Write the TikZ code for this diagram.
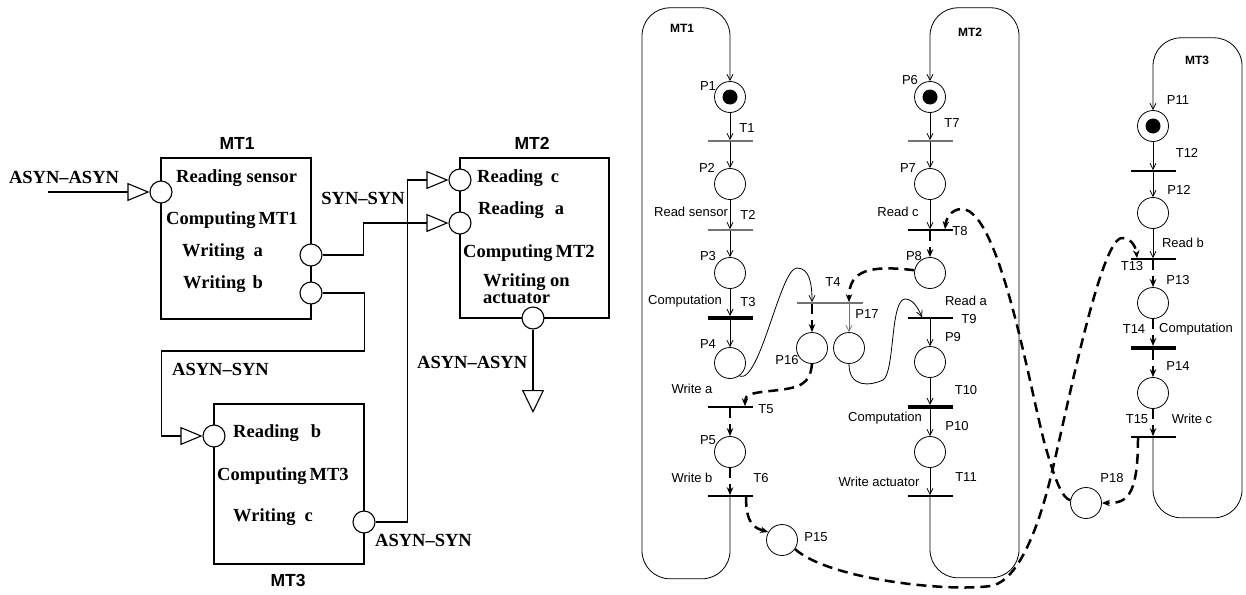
\documentclass[tikz,border=0pt]{standalone}
\usepackage{fontspec}
\setmainfont{Liberation Serif}
\setsansfont{Liberation Sans}
\usetikzlibrary{arrows.meta,calc}

\begin{document}
\begin{tikzpicture}[x=1pt, y=-1pt,
  box/.style={draw, line width=1.1pt, inner sep=0pt},
  port/.style={circle, draw, fill=white, line width=1.1pt, minimum size=22pt, inner sep=0pt},
  wire/.style={line width=1.1pt},
  tri/.style={-{Triangle[open, length=22pt, width=18pt]}},
  tlbl/.style={font=\fontsize{18.5}{20}\selectfont\bfseries, inner sep=0pt, anchor=west},
  mlbl/.style={font=\fontsize{17.5}{20}\selectfont\sffamily\bfseries, inner sep=0pt},
  place/.style={circle, draw, line width=0.8pt, minimum size=31pt, inner sep=0pt},
  marked/.style={path picture={\fill (path picture bounding box.center) circle (7.5pt);}},
  trans/.style={fill=black, minimum width=45pt, minimum height=1.2pt, inner sep=0pt},
  timed/.style={trans, minimum height=3.6pt},
  faint/.style={fill=black!55},
  plbl/.style={font=\fontsize{13}{15}\selectfont\sffamily, inner sep=0pt},
  lane/.style={font=\fontsize{12}{14}\selectfont\sffamily\bfseries, inner sep=0pt},
  flow/.style={line width=0.8pt, -{Straight Barb[length=6pt, width=6pt]}},
  sync/.style={line width=2.5pt, dash pattern=on 10pt off 6pt, -{Stealth[length=8pt, width=6.5pt]}},
]
  \useasboundingbox (0,0) rectangle (1246,594);

  % ---------- task blocks ----------
  \node[box, minimum width=150pt, minimum height=161pt] (mtone) at (236,238.5) {};
  \node[box, minimum width=149pt, minimum height=160pt] (mttwo) at (534.5,238) {};
  \node[box, minimum width=150pt, minimum height=160pt] (mtthree) at (289,484) {};

  \node[mlbl] (nmtone) at (237,143) {MT1};
  \node[mlbl] (nmttwo) at (532,143) {MT2};
  \node[mlbl] (nmtthree) at (288,580) {MT3};

  % ports
  \node[port] (mtoneIn) at (161,192) {};
  \node[port] (mtoneA) at (311,255) {};
  \node[port] (mtoneB) at (311,293) {};
  \node[port] (mttwoC) at (460,180) {};
  \node[port] (mttwoA) at (460,223) {};
  \node[port] (mttwoOut) at (533,318) {};
  \node[port] (mtthreeB) at (214,436) {};
  \node[port] (mtthreeC) at (364,522) {};
  \coordinate (sensorIn) at (48,192);
  \coordinate (actOut) at (533,413);

  % block texts
  \node[tlbl] (tsensor) at (176,178) {Reading sensor};
  \node[tlbl] (tcompone) at (166,220) {Computing\kern3pt MT1};
  \node[tlbl] (twa) at (182,252) {Writing\hspace{9pt}a};
  \node[tlbl] (twb) at (183,284) {Writing\hspace{7pt}b};
  \node[tlbl] (trc) at (477,178) {Reading\hspace{8pt}c};
  \node[tlbl] (tra) at (478,210) {Reading\hspace{11pt}a};
  \node[tlbl] (tcomptwo) at (463,253) {Computing\kern3pt MT2};
  \node[tlbl, align=left] (twact) at (483,289) {Writing on\\[-3pt]actuator};
  \node[tlbl] (trb) at (233,433) {Reading\hspace{12pt}b};
  \node[tlbl] (tcompthree) at (217,476) {Computing\kern3pt MT3};
  \node[tlbl] (twc) at (233,517) {Writing\hspace{9pt}c};

  % link types
  \node[tlbl, anchor=center] (kin) at (64,177) {ASYN--ASYN};
  \node[tlbl, anchor=center] (ksyn) at (363,198) {SYN--SYN};
  \node[tlbl] (kab) at (172,369) {ASYN--SYN};
  \node[tlbl] (kout) at (417,362) {ASYN--ASYN};
  \node[tlbl] (kc) at (375,540) {ASYN--SYN};

  % links
  \draw[wire, tri] (sensorIn) -- (mtoneIn.west);
  \draw[wire, tri] (mtoneA.east) -- ++(41,0) |- (mttwoA.west);
  \draw[wire, tri] (mtoneB.east) -- ++(42,0) |- ++(-203,58) |- (mtthreeB.west);
  \draw[wire, tri] (mtthreeC.east) -- ++(32,0) |- (mttwoC.west);
  \draw[wire, -{Triangle[open, length=23pt, width=22pt]}] (mttwoOut.south) -- (actOut);

  % ---------- Petri net: MT1 ----------
  \node[place, marked] (P1) at (730,97) {};
  \node[trans, faint] (T1) at (730,141) {};
  \node[place] (P2) at (730,184) {};
  \node[trans, faint] (T2) at (730,230) {};
  \node[place] (P3) at (730,273) {};
  \node[timed] (T3) at (730,318) {};
  \node[place] (P4) at (730,363) {};
  \node[trans] (T5) at (730,407) {};
  \node[place] (P5) at (730,452) {};
  \node[trans] (T6) at (730,496) {};

  % MT2
  \node[place, marked] (P6) at (930,97) {};
  \node[trans, faint] (T7) at (930,141) {};
  \node[place] (P7) at (930,184) {};
  \node[trans] (T8) at (930,230) {};
  \node[place] (P8) at (930,273) {};
  \node[trans] (T9) at (930,318) {};
  \node[place] (P9) at (930,362) {};
  \node[timed] (T10) at (930,407) {};
  \node[place] (P10) at (930,452) {};
  \node[trans] (T11) at (930,496) {};

  % MT3
  \node[place, marked] (P11) at (1153,126) {};
  \node[trans] (T12) at (1153,171) {};
  \node[place] (P12) at (1153,213) {};
  \node[trans] (T13) at (1153,259) {};
  \node[place] (P13) at (1153,303) {};
  \node[timed] (T14) at (1153,348) {};
  \node[place] (P14) at (1153,393) {};
  \node[trans] (T15) at (1153,437) {};

  % communication places
  \node[trans, faint, minimum width=66pt] (T4) at (830,303) {};
  \node[place] (P16) at (812,348) {};
  \node[place] (P17) at (849,348) {};
  \node[place] (P15) at (782,540) {};
  \node[place] (P18) at (1086,503) {};

  % labels
  \node[lane] (lmtone) at (682,28) {MT1};
  \node[lane] (lmttwo) at (970,32) {MT2};
  \node[lane] (lmtthree) at (1197,60) {MT3};
  \node[plbl] (lP1) at (708,86) {P1};
  \node[plbl] (lT1) at (747,128) {T1};
  \node[plbl] (lP2) at (707,168) {P2};
  \node[plbl] (lrs) at (691,212) {Read sensor};
  \node[plbl] (lT2) at (748,215) {T2};
  \node[plbl] (lP3) at (708,256) {P3};
  \node[plbl] (lcone) at (685,301) {Computation};
  \node[plbl] (lT3) at (748,302) {T3};
  \node[plbl] (lP4) at (708,344) {P4};
  \node[plbl] (lwa) at (692,389) {Write a};
  \node[plbl] (lT5) at (766,409) {T5};
  \node[plbl] (lP5) at (708,440) {P5};
  \node[plbl] (lwb) at (692,478) {Write b};
  \node[plbl] (lT6) at (761,478) {T6};
  \node[plbl] (lP15) at (816,537) {P15};
  \node[plbl] (lP16) at (787,360) {P16};
  \node[plbl] (lT4) at (833,282) {T4};
  \node[plbl] (lP17) at (867,314) {P17};
  \node[plbl] (lP6) at (910,80) {P6};
  \node[plbl] (lT7) at (952,123) {T7};
  \node[plbl] (lP7) at (908,168) {P7};
  \node[plbl] (lrc) at (898,212) {Read c};
  \node[plbl] (lT8) at (960,231) {T8};
  \node[plbl] (lP8) at (914,256) {P8};
  \node[plbl] (lra) at (966,301) {Read a};
  \node[plbl] (lT9) at (969,319) {T9};
  \node[plbl] (lP9) at (953,337) {P9};
  \node[plbl] (lT10) at (966,390) {T10};
  \node[plbl] (lctwo) at (885,418) {Computation};
  \node[plbl] (lP10) at (957,426) {P10};
  \node[plbl] (lwact) at (879,482) {Write actuator};
  \node[plbl] (lT11) at (966,477) {T11};
  \node[plbl] (lP11) at (1178,100) {P11};
  \node[plbl] (lT12) at (1187,153) {T12};
  \node[plbl] (lP12) at (1179,190) {P12};
  \node[plbl] (lrb) at (1183,243) {Read b};
  \node[plbl] (lT13) at (1132,266) {T13};
  \node[plbl] (lP13) at (1178,280) {P13};
  \node[plbl] (lT14) at (1134,329) {T14};
  \node[plbl] (lcthree) at (1196,329) {Computation};
  \node[plbl] (lP14) at (1178,366) {P14};
  \node[plbl] (lT15) at (1137,419) {T15};
  \node[plbl] (lwc) at (1192,419) {Write c};
  \node[plbl] (lP18) at (1112,478) {P18};

  % sequential arcs
  \draw[flow] (P1) -- (T1);
  \draw[flow] (T1) -- (P2);
  \draw[flow] (P2) -- (T2);
  \draw[flow] (T2) -- (P3);
  \draw[flow] (P3) -- (T3);
  \draw[flow] (T3) -- (P4);
  \draw[sync] (T5) -- (P5);
  \draw[sync] (P5) -- (T6);
  \draw[flow, rounded corners=28pt] (T6.south) -- ++(0,82) -- ++(-88,0) -- ++(0,-571) -- ++(88,0) -- (P1.north);

  \draw[flow] (P6) -- (T7);
  \draw[flow] (T7) -- (P7);
  \draw[flow] (P7) -- (T8);
  \draw[sync] (T8) -- (P8);
  \draw[flow] (T9) -- (P9);
  \draw[flow] (P9) -- (T10);
  \draw[flow] (T10) -- (P10);
  \draw[flow] (P10) -- (T11);
  \draw[flow, rounded corners=28pt] (T11.south) -- ++(0,81) -- ++(89,0) -- ++(0,-570) -- ++(-89,0) -- (P6.north);

  \draw[flow] (P11) -- (T12);
  \draw[flow] (T12) -- (P12);
  \draw[flow] (P12) -- (T13);
  \draw[sync] (T13) -- (P13);
  \draw[sync] (P13) -- (T14);
  \draw[sync] (T14) -- (P14);
  \draw[sync] (P14) -- (T15);
  \draw[flow, rounded corners=28pt] (T15.south) -- ++(0,80) -- ++(89,0) -- ++(0,-480) -- ++(-89,0) -- (P11.north);

  % local arcs through T4
  \draw[flow] (P4.-55) .. controls (760,385) and (780,268) .. (797,268) .. controls (810,268) and (812,285) .. (T4.north -| P16.north);
  \draw[sync] (T4.south -| P16.north) -- (P16.north);
  \draw[flow, draw=black!55] (T4.south -| P17.north) -- (P17.north);
  \draw[flow] (P17.south) .. controls (849,388) and (870,386) .. (883,380) .. controls (895,372) and (890,300) .. (905,299) .. controls (913,299) and (918,308) .. ($(T9.north)+(-8,0)$);

  % inter-task arcs
  \draw[sync] (P8.170) .. controls (870,265) and (849,270) .. (T4.north -| P17.north);
  \draw[sync] (P16.south) .. controls (810,385) and (800,388) .. (770,391) .. controls (750,393) and (745,395) .. ($(T5.north)+(15,0)$);
  \draw[sync] ($(T6.south)+(16,0)$) .. controls (746,525) and (755,528) .. (P15.150);
  \draw[sync] (P15.-35) .. controls (830,580) and (950,592) .. (990,586) .. controls (1020,582) and (1040,520) .. (1050,480) .. controls (1065,420) and (1100,238) .. (1122,238) .. controls (1132,238) and (1136,248) .. ($(T13.north)+(-16,0)$);
  \draw[sync] ($(T15.south)+(-15,0)$) .. controls (1138,500) and (1125,503) .. (P18.east);
  \draw[sync] (P18.170) .. controls (1062,498) and (1055,480) .. (1045,445) .. controls (1030,390) and (1000,210) .. (962,209) .. controls (950,209) and (946,220) .. ($(T8.north)+(15,0)$);
\end{tikzpicture}
\end{document}
